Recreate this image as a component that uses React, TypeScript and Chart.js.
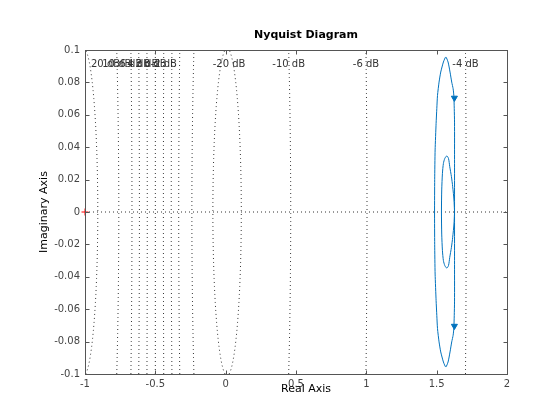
import React, { useEffect, useRef } from "react";
import { Chart, registerables } from "chart.js";

Chart.register(...registerables);

// ---- grid (M-circle) levels and axes ----
const dBLevels = [-20, -10, -6, -4, -2, 0, 2, 4, 6, 10, 20];
const xRange = [-1, 2];
const yRange = [-0.1, 0.1];
const xTickValues = [-1, -0.5, 0, 0.5, 1, 1.5, 2];
const yTickValues = [-0.1, -0.08, -0.06, -0.04, -0.02, 0, 0.02, 0.04, 0.06, 0.08, 0.1];

// ---- Nyquist curve (positive-frequency half) ----
const outerRe = [1.627, 1.627, 1.627, 1.625, 1.622, 1.617, 1.607, 1.595, 1.581, 1.565, 1.548, 1.529, 1.517, 1.506, 1.501, 1.496, 1.489, 1.486, 1.485];
const outerIm = [0, 0.03, 0.055, 0.0638, 0.072, 0.0761, 0.0802, 0.0864, 0.0926, 0.0957, 0.0926, 0.0864, 0.0802, 0.072, 0.0638, 0.0547, 0.0383, 0.02, 0];
const innerRe = [1.627, 1.623, 1.614, 1.605, 1.593, 1.584, 1.572, 1.558, 1.548, 1.541, 1.536, 1.534];
const innerIm = [0, 0.0074, 0.0156, 0.0218, 0.0280, 0.0331, 0.0346, 0.0331, 0.0300, 0.0239, 0.0136, 0];
const arrowRe = [1.626, 1.626];
const arrowIm = [0.0704, -0.0704];
const criticalRe = [-1];
const criticalIm = [0];

const CURVE_COLOR = "#0072BD";
const GRID_COLOR = "#333333";
const FONT = '"DejaVu Sans", sans-serif';

function closedLoop(re: number[], im: number[]) {
  const upper = re.map((x, i) => ({ x, y: im[i] }));
  const lower = re.map((x, i) => ({ x, y: -im[i] })).reverse();
  return [...upper, ...lower.slice(1)];
}

function circleParams(dB: number) {
  const m = Math.pow(10, dB / 20);
  const m2 = m * m;
  return { c: -m2 / (m2 - 1), r: Math.abs(m / (m2 - 1)) };
}

function mCircleArcs(dB: number) {
  if (dB === 0) {
    return [[{ x: -0.5, y: yRange[0] }, { x: -0.5, y: yRange[1] }]];
  }
  const { c, r } = circleParams(dB);
  const arcs: { x: number; y: number }[][] = [];
  for (const s of [1, -1]) {
    const pts: { x: number; y: number }[] = [];
    for (let k = 0; k <= 200; k++) {
      const y = yRange[0] + ((yRange[1] - yRange[0]) * k) / 200;
      const d = r * r - y * y;
      if (d >= 0) pts.push({ x: c + s * Math.sqrt(d), y });
    }
    arcs.push(pts);
  }
  return arcs;
}

function labelX(dB: number) {
  if (dB === 0) return -0.5;
  const { c, r } = circleParams(dB);
  const d = Math.sqrt(Math.max(r * r - yRange[1] * yRange[1], 0));
  const right = c + d;
  if (right >= xRange[0] && right <= xRange[1]) return right;
  return c - d;
}

const fmt = (v: number) => String(+v.toFixed(2));

const decorPlugin = {
  id: "decor",
  afterDatasetsDraw(chart: any) {
    const { ctx, chartArea: a, scales } = chart;
    const xs = scales.x;
    const ys = scales.y;
    ctx.save();
    ctx.font = `10px ${FONT}`;
    ctx.fillStyle = "#333";
    ctx.textAlign = "center";
    ctx.textBaseline = "middle";
    for (const dB of dBLevels) {
      const txt = `${dB} dB`;
      const w = ctx.measureText(txt).width;
      let px = xs.getPixelForValue(labelX(dB));
      px = Math.max(px, a.left + 6 + w / 2);
      px = Math.min(px, a.right - 3 - w / 2);
      ctx.fillText(txt, px, a.top + 14);
    }
    ctx.strokeStyle = "#555";
    ctx.lineWidth = 1;
    const L = Math.round(a.left) + 0.5;
    const R = Math.round(a.right) + 0.5;
    const T = Math.round(a.top) + 0.5;
    const B = Math.round(a.bottom) + 0.5;
    ctx.strokeRect(L, T, R - L, B - T);
    ctx.beginPath();
    for (const v of xTickValues) {
      const px = Math.round(xs.getPixelForValue(v)) + 0.5;
      ctx.moveTo(px, B);
      ctx.lineTo(px, B - 4);
      ctx.moveTo(px, T);
      ctx.lineTo(px, T + 4);
    }
    for (const v of yTickValues) {
      const py = Math.round(ys.getPixelForValue(v)) + 0.5;
      ctx.moveTo(L, py);
      ctx.lineTo(L + 4, py);
      ctx.moveTo(R, py);
      ctx.lineTo(R - 4, py);
    }
    ctx.stroke();
    ctx.restore();
  },
  afterDraw(chart: any) {
    const { ctx } = chart;
    ctx.save();
    ctx.fillStyle = "#000";
    ctx.textAlign = "center";
    ctx.textBaseline = "middle";
    ctx.font = `bold 11px ${FONT}`;
    ctx.fillText("Nyquist Diagram", 306, 35);
    ctx.font = `11px ${FONT}`;
    ctx.fillText("Real Axis", 306, 389);
    ctx.translate(44, 212);
    ctx.rotate(-Math.PI / 2);
    ctx.fillText("Imaginary Axis", 0, 0);
    ctx.restore();
  },
};

export default function App() {
  const ref = useRef<HTMLCanvasElement | null>(null);
  useEffect(() => {
    document.body.style.margin = "0";
    const canvas = ref.current;
    if (!canvas) return;
    Chart.defaults.font.family = FONT;

    const datasets: any[] = [];
    datasets.push({
      label: "critical",
      data: criticalRe.map((x, i) => ({ x, y: criticalIm[i] })),
      showLine: false,
      pointStyle: "cross",
      pointRadius: 3.5,
      borderColor: "#ff0000",
      pointBorderColor: "#ff0000",
      pointBorderWidth: 1,
      clip: false,
    });
    datasets.push({
      label: "arrows",
      data: arrowRe.map((x, i) => ({ x, y: arrowIm[i] })),
      showLine: false,
      pointStyle: "triangle",
      pointRadius: 3.5,
      pointRotation: 180,
      pointBackgroundColor: CURVE_COLOR,
      pointBorderColor: CURVE_COLOR,
      pointBorderWidth: 1,
    });
    datasets.push({
      label: "outer",
      data: closedLoop(outerRe, outerIm),
      showLine: true,
      borderColor: CURVE_COLOR,
      borderWidth: 1,
      pointRadius: 0,
      tension: 0.2,
    });
    datasets.push({
      label: "inner",
      data: closedLoop(innerRe, innerIm),
      showLine: true,
      borderColor: CURVE_COLOR,
      borderWidth: 1,
      pointRadius: 0,
      tension: 0.25,
    });
    datasets.push({
      label: "realaxis",
      data: [{ x: xRange[0], y: 0 }, { x: xRange[1], y: 0 }],
      showLine: true,
      borderColor: GRID_COLOR,
      borderWidth: 1,
      borderDash: [1, 3],
      pointRadius: 0,
    });
    for (const dB of dBLevels) {
      for (const arc of mCircleArcs(dB)) {
        datasets.push({
          label: `m${dB}`,
          data: arc,
          showLine: true,
          borderColor: GRID_COLOR,
          borderWidth: 1,
          borderDash: [1, 3],
          pointRadius: 0,
          clip: 0,
        });
      }
    }

    const chart = new Chart(canvas, {
      type: "scatter",
      data: { datasets },
      options: {
        responsive: false,
        animation: false,
        events: [],
        layout: { padding: { left: 0, top: 50, right: 53, bottom: 0 } },
        plugins: { legend: { display: false }, tooltip: { enabled: false }, title: { display: false } },
        scales: {
          x: {
            type: "linear",
            min: xRange[0],
            max: xRange[1],
            afterBuildTicks: (s: any) => {
              s.ticks = xTickValues.map((v) => ({ value: v }));
            },
            afterFit: (s: any) => {
              s.height = 46;
            },
            ticks: {
              callback: (v: any) => fmt(Number(v)),
              color: "#444",
              font: { size: 10, family: FONT },
              padding: 4,
              maxRotation: 0,
              autoSkip: false,
            },
            grid: { display: false, drawTicks: false },
            border: { display: false },
          },
          y: {
            type: "linear",
            min: yRange[0],
            max: yRange[1],
            afterBuildTicks: (s: any) => {
              s.ticks = yTickValues.map((v) => ({ value: v }));
            },
            afterFit: (s: any) => {
              s.width = 85;
            },
            ticks: {
              callback: (v: any) => fmt(Number(v)),
              color: "#444",
              font: { size: 10, family: FONT },
              padding: 5,
              autoSkip: false,
            },
            grid: { display: false, drawTicks: false },
            border: { display: false },
          },
        },
      } as any,
      plugins: [decorPlugin],
    });
    return () => chart.destroy();
  }, []);

  return (
    <div style={{ position: "absolute", left: 0, top: 0, width: 560, height: 420, background: "#fff" }}>
      <canvas ref={ref} width={560} height={420} style={{ width: 560, height: 420, display: "block" }} />
    </div>
  );
}
